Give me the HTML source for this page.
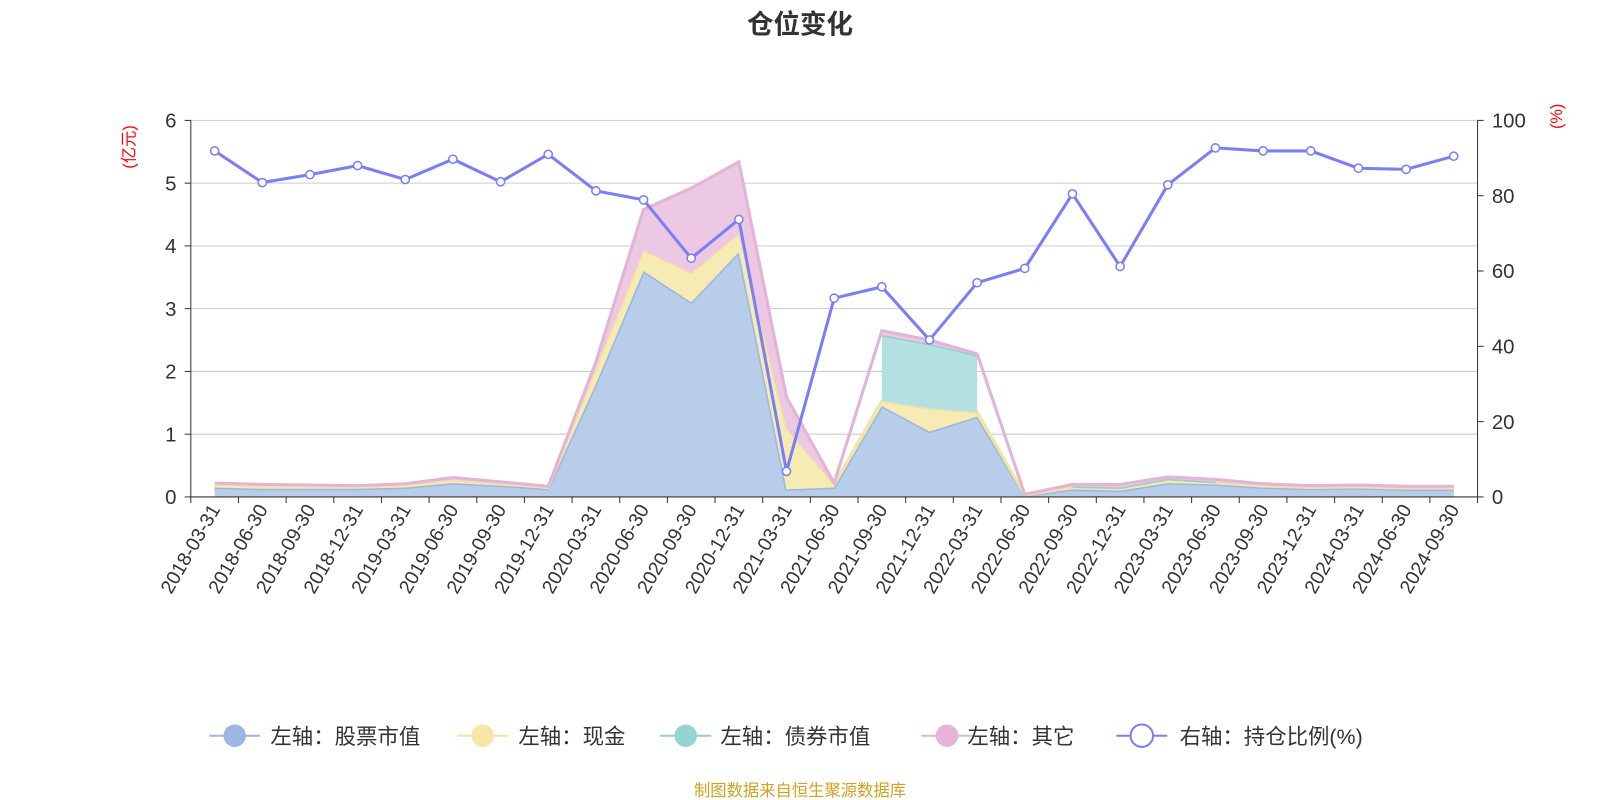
<!DOCTYPE html>
<html><head><meta charset="utf-8">
<style>
body{margin:0;background:#fff;}
svg{display:block;font-family:"Liberation Sans","Noto Sans CJK SC",sans-serif;}
</style></head>
<body>
<svg id="chart" width="1600" height="800" viewBox="0 0 1568 784" xmlns="http://www.w3.org/2000/svg">
<text x="784" y="33" text-anchor="middle" font-size="26" font-weight="bold" fill="#333">仓位变化</text>
<text transform="translate(132,144) rotate(-90)" text-anchor="middle" font-size="16" fill="#f00">(亿元)</text>
<text transform="translate(1531,114) rotate(-90)" text-anchor="middle" font-size="16" fill="#f00">(%)</text>
<g id="grid"></g><g id="areas"></g><g id="axes"></g><g id="ratio"></g>
<g id="legend"></g>
<text x="784" y="780" text-anchor="middle" font-size="16" fill="#d4a020">制图数据来自恒生聚源数据库</text>
</svg>
<script>
const categories=["2018-03-31","2018-06-30","2018-09-30","2018-12-31","2019-03-31","2019-06-30","2019-09-30","2019-12-31","2020-03-31","2020-06-30","2020-09-30","2020-12-31","2021-03-31","2021-06-30","2021-09-30","2021-12-31","2022-03-31","2022-06-30","2022-09-30","2022-12-31","2023-03-31","2023-06-30","2023-09-30","2023-12-31","2024-03-31","2024-06-30","2024-09-30"];
const stockValues=[0.15,0.13,0.13,0.13,0.15,0.22,0.18,0.13,1.8,3.6,3.1,3.9,0.12,0.15,1.45,1.04,1.28,0.02,0.12,0.1,0.22,0.2,0.15,0.13,0.14,0.12,0.12];
const cashValues=[0.05,0.04,0.04,0.03,0.04,0.05,0.03,0.02,0.25,0.33,0.47,0.3,0.97,0.05,0.08,0.37,0.07,0.01,0.03,0.03,0.05,0.03,0.03,0.02,0.02,0.02,0.02];
const bondValues=[null,null,null,null,null,null,null,null,null,null,null,null,null,null,1.05,1.03,0.91,null,0.02,0.02,0.02,0.01,null,null,null,null,null];
const otherValues=[0.02,0.03,0.02,0.02,0.02,0.04,0.03,0.02,0.1,0.65,1.35,1.14,0.5,0.02,0.07,0.06,0.02,0.01,0.03,0.05,0.03,0.04,0.03,0.03,0.03,0.03,0.03];
const ratioValues=[91.9,83.5,85.6,88,84.3,89.7,83.7,91,81.3,78.9,63.4,73.7,6.8,52.8,55.8,41.7,56.9,60.7,80.5,61.2,82.9,92.7,91.9,91.9,87.3,87,90.5];
const leftTicks=[0,1,2,3,4,5,6];
const rightTicks=[0,20,40,60,80,100];

const NS="http://www.w3.org/2000/svg";
const X0=187,X1=1448,Y0=487,Y1=118;
const bw=(X1-X0)/categories.length;
const xs=i=>X0+bw*(i+0.5);
const yl=v=>Y0-(v/6)*(Y0-Y1);
const yr=v=>Y0-(v/100)*(Y0-Y1);
function mk(tag,attrs,parent){const e=document.createElementNS(NS,tag);for(const k in attrs)e.setAttribute(k,attrs[k]);parent.appendChild(e);return e;}
const grid=document.getElementById('grid'),axes=document.getElementById('axes'),areas=document.getElementById('areas'),ratio=document.getElementById('ratio'),legend=document.getElementById('legend');

leftTicks.forEach(v=>{
  if(v>0){const g=mk('line',{x1:X0,x2:X1,y1:yl(v),y2:yl(v),stroke:'#ccc','stroke-width':1},grid);
  
  }
  const t=mk('text',{x:X0-14,y:yl(v)+7,'text-anchor':'end','font-size':20,fill:'#333'},axes);t.textContent=v;
  
  
  mk('line',{x1:X0-6,x2:X0,y1:yl(v),y2:yl(v),stroke:'#333'},axes);
});
rightTicks.forEach(v=>{
  const t=mk('text',{x:X1+14,y:yr(v)+7,'font-size':20,fill:'#333'},axes);t.textContent=v;
  
  
  mk('line',{x1:X1,x2:X1+6,y1:yr(v),y2:yr(v),stroke:'#333'},axes);
});
mk('line',{x1:X0,x2:X0,y1:Y1,y2:Y0,stroke:'#333'},axes);
mk('line',{x1:X1,x2:X1,y1:Y1,y2:Y0,stroke:'#333'},axes);
mk('line',{x1:X0,x2:X1,y1:Y0,y2:Y0,stroke:'#333'},axes);
categories.forEach((c,i)=>{
  mk('line',{x1:X0+bw*i,x2:X0+bw*i,y1:Y0,y2:Y0+6,stroke:'#333'},axes);
  const t=mk('text',{transform:`translate(${xs(i)+6},${Y0+12}) rotate(-60)`,'text-anchor':'end','font-size':19,fill:'#333'},axes);
  t.textContent=c;
  
  
});
mk('line',{x1:X1,x2:X1,y1:Y0,y2:Y0+6,stroke:'#333'},axes);

const series=[
 {vals:stockValues,fill:'#b8cde9',line:'#9bb6e0',name:'area-stock'},
 {vals:cashValues,fill:'#f7ebb4',line:'#f5e3a0',name:'area-cash'},
 {vals:bondValues,fill:'#b3e0e0',line:'#8fd0d0',name:'area-bond'},
 {vals:otherValues,fill:'#ecc8e2',line:'#e3b3d8',name:'area-other'}];
let base=categories.map(()=>0);
series.forEach(s=>{
  const top=base.map((b,i)=>b+(s.vals[i]||0));
  let segs=[],cur=[];
  s.vals.forEach((v,i)=>{if(v===null){if(cur.length)segs.push(cur);cur=[];}else cur.push(i);});
  if(cur.length)segs.push(cur);
  segs.forEach(seg=>{
    if(seg.length<2)return;
    let d='M'+seg.map(i=>xs(i)+','+yl(top[i])).join('L');
    d+='L'+seg.slice().reverse().map(i=>xs(i)+','+yl(base[i])).join('L')+'Z';
    const p=mk('path',{d:d,fill:s.fill,stroke:'none'},areas);
    
    
    const l=mk('path',{d:'M'+seg.map(i=>xs(i)+','+yl(top[i])).join('L'),fill:'none',stroke:s.line,'stroke-width':3},areas);
    
    
  });
  base=top;
});
const rl=mk('path',{d:'M'+ratioValues.map((v,i)=>xs(i)+','+yr(v)).join('L'),fill:'none',stroke:'#7b7ff7','stroke-width':3},ratio);


ratioValues.forEach((v,i)=>{
  const c=mk('circle',{cx:xs(i),cy:yr(v),r:4,fill:'#fff',stroke:'#7b7ff7','stroke-width':1.5},ratio);
  
  
});

const items=[
 {cx:230,tx:265,label:'左轴：股票市值',fill:'#9bb6e0',line:'#9bb6e0'},
 {cx:473,tx:508,label:'左轴：现金',fill:'#f7e6a6',line:'#f5e3a0'},
 {cx:672,tx:706,label:'左轴：债券市值',fill:'#96d3d3',line:'#8fd0d0'},
 {cx:928,tx:948,label:'左轴：其它',fill:'#e6b3d9',line:'#e3b3d8'},
 {cx:1119,tx:1156,label:'右轴：持仓比例(%)',fill:'#fff',line:'#7b7ff7'}];
items.forEach(it=>{
  const g=mk('g',{},legend);
  
  
  mk('line',{x1:it.cx-25,x2:it.cx+25,y1:721,y2:721,stroke:it.line,'stroke-width':2},g);
  mk('circle',{cx:it.cx,cy:721,r:11,fill:it.fill,stroke:it.fill==='#fff'?it.line:'none','stroke-width':2},g);
  const t=mk('text',{x:it.tx,y:729,'font-size':21,fill:'#333'},g);t.textContent=it.label;
});
</script>
</body></html>
